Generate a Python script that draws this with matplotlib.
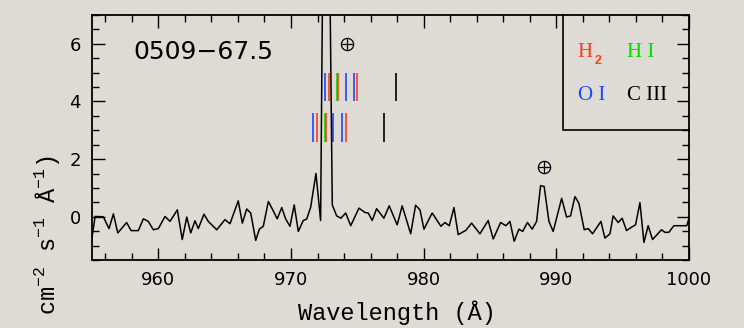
import matplotlib
matplotlib.use("Agg")
import matplotlib.pyplot as plt
from matplotlib.ticker import MultipleLocator

# spectrum (wavelength in A, flux)
wave = [955.0, 955.23, 955.85, 956.28, 956.61, 956.94, 957.61, 957.94, 958.49, 958.87,
        959.24, 959.62, 960.0, 960.5, 960.88, 961.43, 961.8, 962.14, 962.44, 962.76,
        963.01, 963.44, 963.76, 964.4, 965.02, 965.4, 966.02, 966.33, 966.66, 966.96,
        967.34, 967.61, 967.91, 968.29, 968.62, 968.96, 969.3, 969.6, 969.92, 970.24,
        970.55, 970.92, 971.18, 971.48, 971.88, 972.23, 972.45, 972.84, 973.11, 973.44,
        973.76, 974.12, 974.5, 975.12, 975.57, 975.82, 976.12, 976.45, 976.7, 977.0,
        977.4, 978.0, 978.38, 979.02, 979.39, 979.72, 980.02, 980.64, 981.3, 981.6,
        981.93, 982.28, 982.6, 983.18, 983.61, 984.24, 984.86, 985.24, 985.8, 986.2,
        986.5, 986.82, 987.18, 987.46, 987.82, 988.18, 988.51, 988.81, 989.08, 989.44,
        989.76, 990.4, 990.77, 991.07, 991.4, 991.7, 992.1, 992.4, 992.73, 993.36,
        993.66, 994.04, 994.28, 994.66, 994.96, 995.29, 995.67, 995.97, 996.3, 996.6,
        996.92, 997.25, 997.93, 998.18, 998.48, 998.86, 999.83, 1000.0]
flux = [-0.72, 0.01, 0.0, -0.41, 0.1, -0.56, -0.2, -0.48, -0.48, -0.07,
        -0.16, -0.45, -0.41, 0.01, -0.16, 0.24, -0.79, -0.01, -0.56, -0.14,
        -0.41, 0.09, -0.16, -0.45, -0.1, -0.24, 0.55, -0.22, 0.27, 0.13,
        -0.82, -0.43, -0.33, 0.53, 0.24, -0.07, 0.32, -0.08, -0.33, 0.41,
        -0.51, -0.13, -0.08, 0.33, 1.5, -0.13, 12.0, 12.0, 0.41, 0.03,
        -0.05, 0.13, -0.31, 0.3, 0.15, 0.13, -0.13, 0.28, 0.13, -0.05,
        0.38, -0.28, 0.38, -0.59, 0.4, 0.24, -0.43, 0.13, -0.33, -0.2,
        -0.31, 0.32, -0.62, -0.47, -0.22, -0.59, -0.13, -0.77, -0.2, -0.31,
        -0.16, -0.85, -0.43, -0.51, -0.2, -0.43, -0.16, 1.08, 1.05, -0.16,
        -0.51, 0.64, -0.01, 0.03, 0.7, 0.47, -0.45, -0.41, -0.59, -0.16,
        -0.74, -0.59, 0.03, -0.2, -0.05, -0.48, -0.36, -0.28, 0.49, -0.89,
        -0.31, -0.79, -0.45, -0.54, -0.54, -0.31, -0.31, -0.05]

# line identifications: upper row (LMC) and lower row (Galactic)
upper_wave = [972.58, 972.84, 973.44, 973.56, 974.12, 974.74, 975.0, 977.89]
upper_ion = ['OI', 'H2', 'HI', 'H2', 'OI', 'OI', 'H2', 'CIII']
lower_wave = [971.68, 971.93, 972.53, 972.64, 973.2, 973.86, 974.12, 977.0]
lower_ion = ['OI', 'H2', 'HI', 'H2', 'OI', 'OI', 'H2', 'CIII']
upper_y = (4.0, 5.0)
lower_y = (2.6, 3.6)

ion_colors = {'H2': '#ff3c1e', 'HI': '#00dc00', 'OI': '#1e46ff', 'CIII': 'black'}

# telluric (earth) features
earth_x = [974.2, 989.1]
earth_y = [6.0, 1.72]

plt.rcParams['mathtext.fontset'] = 'custom'
plt.rcParams['mathtext.rm'] = 'Liberation Mono'

bg = '#dedbd4'
fig = plt.figure(figsize=(7.44, 3.28), dpi=100, facecolor=bg)
ax = fig.add_axes([0.1237, 0.2073, 0.8024, 0.747])
ax.set_facecolor(bg)

for w, ion in zip(upper_wave, upper_ion):
    ax.vlines(w, upper_y[0], upper_y[1], color=ion_colors[ion], lw=1.2, zorder=1)
for w, ion in zip(lower_wave, lower_ion):
    ax.vlines(w, lower_y[0], lower_y[1], color=ion_colors[ion], lw=1.2, zorder=1)

ax.plot(wave, flux, color='black', lw=1.1, zorder=2)

ax.plot(earth_x, earth_y, 'o', ms=8.8, mfc='none', mec='black', mew=0.9)
ax.plot(earth_x, earth_y, '+', ms=8.8, mec='black', mew=0.9)

# legend box
ax.plot([990.5, 990.5, 1000], [7, 3.02, 3.02], color='black', lw=1.2, clip_on=False)
lfont = dict(family='Liberation Serif', fontsize=15, va='center')
ax.text(991.6, 5.69, 'H', color=ion_colors['H2'], **lfont)
ax.text(992.85, 5.4, '2', color=ion_colors['H2'], family='Liberation Sans',
        fontsize=9, fontweight='bold', va='center')
ax.text(995.3, 5.69, 'H I', color=ion_colors['HI'], **lfont)
ax.text(991.6, 4.2, 'O I', color=ion_colors['OI'], **lfont)
ax.text(995.3, 4.2, 'C III', color='black', **lfont)

ax.text(958.1, 5.72, '0509\u221267.5', family='DejaVu Sans', fontsize=18, va='center')

ax.set_xlim(955, 1000)
ax.set_ylim(-1.5, 7)
ax.xaxis.set_major_locator(MultipleLocator(10))
ax.xaxis.set_minor_locator(MultipleLocator(2))
ax.yaxis.set_major_locator(MultipleLocator(2))
ax.yaxis.set_minor_locator(MultipleLocator(0.5))
ax.tick_params(which='both', direction='in', top=True, right=True, width=1.0)
ax.tick_params(which='major', length=9, pad=8, labelsize=13)
ax.tick_params(which='minor', length=5)
for lab in ax.get_xticklabels() + ax.get_yticklabels():
    lab.set_family('DejaVu Sans')
for s in ax.spines.values():
    s.set_linewidth(1.3)

fig.text(0.5336, 0.0244, 'Wavelength (Å)', family='Liberation Mono', fontsize=17,
         ha='center', va='baseline')
fig.text(0.063, 0.04, 'cm$^{-2}$ s$^{-1}$ Å$^{-1}$)', family='Liberation Mono',
         fontsize=17, rotation=90, ha='center', va='bottom')

fig.savefig('out.png', dpi=100, facecolor=bg)
